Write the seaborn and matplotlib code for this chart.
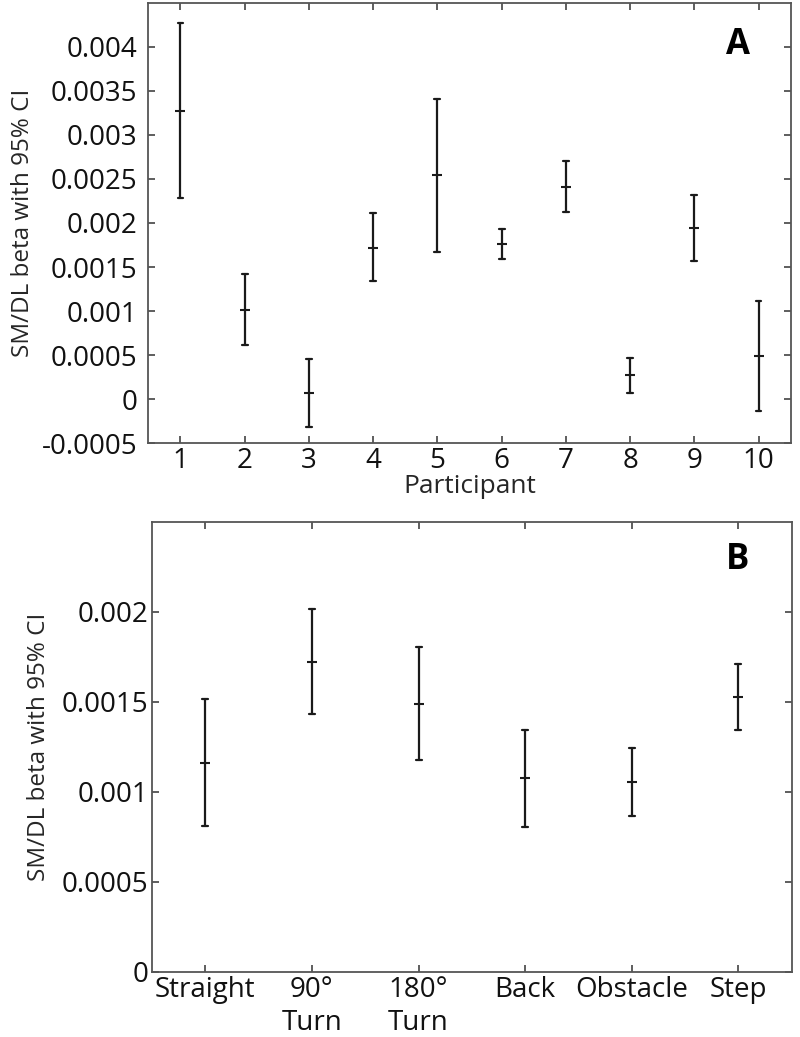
import numpy as np
import pandas as pd
import matplotlib
matplotlib.use("Agg")
import matplotlib.pyplot as plt
from matplotlib.ticker import FuncFormatter
import seaborn as sns

# ---- Data ----
participants = ["1", "2", "3", "4", "5", "6", "7", "8", "9", "10"]
a_beta = [0.00327, 0.00101, 0.00007, 0.00172, 0.00254, 0.00176, 0.00241, 0.00028, 0.00194, 0.00049]
a_lo   = [0.00228, 0.00062, -0.00032, 0.00134, 0.00167, 0.00159, 0.00213, 0.00007, 0.00157, -0.00013]
a_hi   = [0.00427, 0.00142, 0.00046, 0.00211, 0.00341, 0.00193, 0.00270, 0.00047, 0.00232, 0.00111]

conditions = ["Straight", "90°\nTurn", "180°\nTurn", "Back", "Obstacle", "Step"]
b_beta = [0.001162, 0.001722, 0.001490, 0.001076, 0.001055, 0.001527]
b_lo   = [0.000812, 0.001432, 0.001175, 0.000804, 0.000867, 0.001342]
b_hi   = [0.001517, 0.002015, 0.001804, 0.001344, 0.001245, 0.001709]

ylabel = "SM/DL beta with 95% CI"


def long_frame(cats, lo, mid, hi, name):
    rows = []
    for c, l, m, h in zip(cats, lo, mid, hi):
        for v in (l, m, h):
            rows.append({name: c, "beta": v})
    return pd.DataFrame(rows)


dfA = long_frame(participants, a_lo, a_beta, a_hi, "participant")
dfB = long_frame(conditions, b_lo, b_beta, b_hi, "condition")

sns.set_theme(style="ticks")
plt.rcParams["font.family"] = ["Open Sans", "DejaVu Sans"]
plt.rcParams["axes.unicode_minus"] = False

W, H = 800, 1037
fig = plt.figure(figsize=(W / 100, H / 100), dpi=100)
axA = fig.add_axes([148.3 / W, 1 - 443.3 / H, (790.7 - 148.3) / W, (443.3 - 2.7) / H])
axB = fig.add_axes([152 / W, 1 - 971.7 / H, (791.7 - 152) / W, (971.7 - 521.7) / H])

line_col = "#1a1a1a"
spine_col = "#555555"
fmt = FuncFormatter(lambda v, p: "0" if abs(v) < 1e-12 else "{:g}".format(v))
rng = lambda v: (v.min(), v.max())

sns.pointplot(data=dfA, x="participant", y="beta", order=participants,
              estimator="median", errorbar=rng, linestyle="none",
              marker="_", markersize=7, markeredgewidth=1.5,
              capsize=0.09, color=line_col, err_kws={"linewidth": 1.6},
              ax=axA)
sns.pointplot(data=dfB, x="condition", y="beta", order=conditions,
              estimator="median", errorbar=rng, linestyle="none",
              marker="_", markersize=7, markeredgewidth=1.5,
              capsize=0.056, color=line_col, err_kws={"linewidth": 1.6},
              ax=axB)

TICK_FS = 20

axA.set_xlim(-0.5, len(participants) - 0.5)
axA.set_ylim(-0.0005, 0.0045)
axA.set_yticks(np.arange(-0.0005, 0.00401, 0.0005))
axA.yaxis.set_major_formatter(fmt)
axA.set_xlabel("Participant", fontsize=19, labelpad=-1)
axA.set_ylabel(ylabel, fontsize=17.5, labelpad=5)
axA.tick_params(axis="y", pad=8)

axB.set_xlim(-0.5, len(conditions) - 0.5)
axB.set_ylim(0, 0.0025)
axB.set_yticks(np.arange(0, 0.00201, 0.0005))
axB.yaxis.set_major_formatter(fmt)
axB.set_xlabel("")
axB.set_ylabel(ylabel, fontsize=17.5, labelpad=8)
axB.tick_params(axis="y", pad=2.5)

for ax in (axA, axB):
    ax.tick_params(direction="in", top=True, right=True, length=5, width=1.1,
                   color="#333333", labelsize=TICK_FS, labelcolor="#111111")
    ax.tick_params(axis="x", pad=3)
    for s in ax.spines.values():
        s.set_color(spine_col)
        s.set_linewidth(1.3)
    ax.grid(False)

for lab in axB.get_xticklabels():
    lab.set_verticalalignment("top")
    lab.set_linespacing(1.25)

axA.text(0.918, 0.905, "A", transform=axA.transAxes, fontsize=25,
         fontweight="bold", ha="center", va="center", color="black")
axB.text(0.915, 0.915, "B", transform=axB.transAxes, fontsize=25,
         fontweight="bold", ha="center", va="center", color="black")

fig.savefig("out.png", dpi=100)
